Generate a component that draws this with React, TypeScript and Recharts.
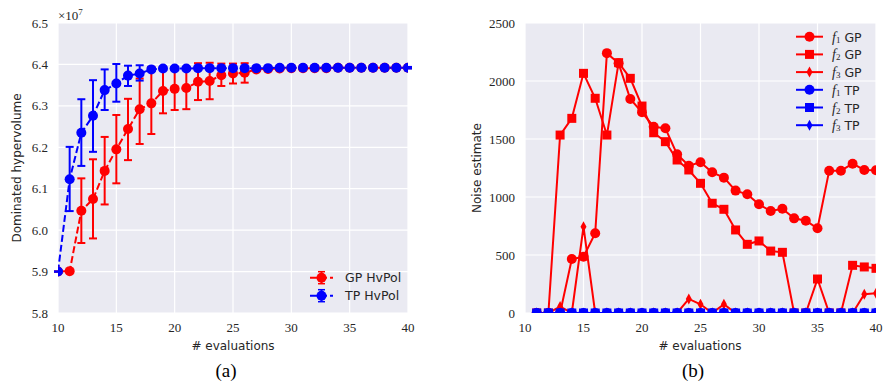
import React from 'react';
import { LineChart, Line, XAxis, YAxis, CartesianGrid, ErrorBar } from 'recharts';

// ---- panel (a): dominated hypervolume (units of 1e7) ----
const evalsA = [10, 11, 12, 13, 14, 15, 16, 17, 18, 19, 20, 21, 22, 23, 24, 25, 26, 27, 28, 29, 30, 31, 32, 33, 34, 35, 36, 37, 38, 39, 40];
const gpHv = [5.9, 5.901, 6.047, 6.075, 6.143, 6.195, 6.244, 6.292, 6.306, 6.336, 6.341, 6.343, 6.358, 6.36, 6.374, 6.378, 6.38, 6.388, 6.389, 6.39, 6.391, 6.391, 6.391, 6.391, 6.392, 6.392, 6.392, 6.392, 6.392, 6.392, 6.392];
const gpLow = [5.9, 5.901, 5.969, 5.98, 6.062, 6.113, 6.169, 6.208, 6.232, 6.282, 6.29, 6.292, 6.314, 6.316, 6.348, 6.354, 6.356, 6.384, 6.387, 6.389, 6.39, 6.39, 6.39, 6.39, 6.391, 6.391, 6.391, 6.391, 6.391, 6.391, 6.391];
const gpHigh = [5.9, 5.901, 6.125, 6.171, 6.225, 6.278, 6.317, 6.366, 6.394, 6.391, 6.392, 6.392, 6.403, 6.404, 6.402, 6.402, 6.403, 6.392, 6.391, 6.391, 6.392, 6.392, 6.392, 6.392, 6.393, 6.393, 6.393, 6.393, 6.393, 6.393, 6.393];
const tpHv = [5.9, 6.123, 6.235, 6.276, 6.338, 6.354, 6.373, 6.378, 6.388, 6.39, 6.39, 6.39, 6.391, 6.391, 6.391, 6.391, 6.391, 6.391, 6.391, 6.392, 6.392, 6.392, 6.392, 6.392, 6.392, 6.392, 6.392, 6.392, 6.392, 6.392, 6.392];
const tpLow = [5.9, 6.046, 6.155, 6.189, 6.29, 6.31, 6.348, 6.361, 6.384, 6.388, 6.388, 6.388, 6.389, 6.389, 6.389, 6.389, 6.389, 6.389, 6.389, 6.39, 6.39, 6.39, 6.39, 6.39, 6.39, 6.39, 6.39, 6.39, 6.39, 6.39, 6.39];
const tpHigh = [5.9, 6.201, 6.316, 6.362, 6.388, 6.401, 6.397, 6.398, 6.392, 6.392, 6.392, 6.392, 6.393, 6.393, 6.393, 6.393, 6.393, 6.393, 6.393, 6.394, 6.394, 6.394, 6.394, 6.394, 6.394, 6.394, 6.394, 6.394, 6.394, 6.394, 6.394];
const xTicks = [10, 15, 20, 25, 30, 35, 40];
const hvTicks = [5.8, 5.9, 6.0, 6.1, 6.2, 6.3, 6.4, 6.5];

// ---- panel (b): noise estimate ----
const evalsB = [11, 12, 13, 14, 15, 16, 17, 18, 19, 20, 21, 22, 23, 24, 25, 26, 27, 28, 29, 30, 31, 32, 33, 34, 35, 36, 37, 38, 39, 40];
const f1GP = [0, 0, 0, 465, 485, 687, 2240, 2152, 1845, 1730, 1606, 1592, 1368, 1270, 1299, 1213, 1167, 1055, 1023, 937, 879, 899, 816, 796, 730, 1227, 1227, 1287, 1233, 1230];
const f2GP = [0, 0, 1534, 1678, 2066, 1851, 1534, 2158, 2023, 1784, 1554, 1477, 1319, 1233, 1118, 946, 894, 716, 592, 621, 534, 523, 0, 0, 293, 0, 0, 411, 397, 385];
const f3GP = [0, 0, 55, 0, 744, 0, 0, 0, 0, 0, 0, 0, 0, 121, 75, 0, 75, 0, 0, 0, 0, 0, 0, 0, 0, 0, 0, 0, 161, 170];
const f1TP = [0, 0, 0, 0, 0, 0, 0, 0, 0, 0, 0, 0, 0, 0, 0, 0, 0, 0, 0, 0, 0, 0, 0, 0, 0, 0, 0, 0, 0, 0];
const f2TP = [0, 0, 0, 0, 0, 0, 0, 0, 0, 0, 0, 0, 0, 0, 0, 0, 0, 0, 0, 0, 0, 0, 0, 0, 0, 0, 0, 0, 0, 0];
const f3TP = [0, 0, 0, 0, 0, 0, 0, 0, 0, 0, 0, 0, 0, 0, 0, 0, 0, 0, 0, 0, 0, 0, 0, 0, 0, 0, 0, 0, 0, 0];
const noiseTicks = [0, 500, 1000, 1500, 2000, 2500];

const RED = '#ff0000';
const BLUE = '#0000ff';
const BG = '#eaeaf2';
const TXT = '#262626';
const serif = '"Liberation Serif", serif';
const sans = '"DejaVu Sans", sans-serif';
const tickStyle = { fontFamily: serif, fontSize: 13, fill: TXT };

const hvData = evalsA.map((x, i) => ({
  x,
  gp: gpHv[i],
  gpErr: [gpHv[i] - gpLow[i], gpHigh[i] - gpHv[i]],
  tp: tpHv[i],
  tpErr: [tpHv[i] - tpLow[i], tpHigh[i] - tpHv[i]],
}));

const noiseData = evalsB.map((x, i) => ({
  x,
  f1GP: f1GP[i],
  f2GP: f2GP[i],
  f3GP: f3GP[i],
  f1TP: f1TP[i],
  f2TP: f2TP[i],
  f3TP: f3TP[i],
}));

const square = (color: string) => (p: any) => (
  <rect key={`s-${p.index}`} x={p.cx - 4.5} y={p.cy - 4.5} width={9} height={9} fill={color} />
);
const diamond = (color: string) => (p: any) => (
  <polygon
    key={`d-${p.index}`}
    points={`${p.cx},${p.cy - 5.5} ${p.cx + 3},${p.cy} ${p.cx},${p.cy + 5.5} ${p.cx - 3},${p.cy}`}
    fill={color}
  />
);

function MarkerShape({ kind, x, y, color }: { kind: string; x: number; y: number; color: string }) {
  if (kind === 'circle') return <circle cx={x} cy={y} r={5} fill={color} />;
  if (kind === 'square') return <rect x={x - 4.5} y={y - 4.5} width={9} height={9} fill={color} />;
  return <polygon points={`${x},${y - 5.5} ${x + 3},${y} ${x},${y + 5.5} ${x - 3},${y}`} fill={color} />;
}

const noiseLegend = [
  { sub: '1', name: 'GP', color: RED, kind: 'circle' },
  { sub: '2', name: 'GP', color: RED, kind: 'square' },
  { sub: '3', name: 'GP', color: RED, kind: 'diamond' },
  { sub: '1', name: 'TP', color: BLUE, kind: 'circle' },
  { sub: '2', name: 'TP', color: BLUE, kind: 'square' },
  { sub: '3', name: 'TP', color: BLUE, kind: 'diamond' },
];

const hvLegend = [
  { name: 'GP HvPol', color: RED },
  { name: 'TP HvPol', color: BLUE },
];

export default function App() {
  return (
    <div style={{ position: 'absolute', left: 0, top: 0, width: 884, height: 383, background: '#fff' }}>
      <div style={{ position: 'absolute', left: 0, top: 0 }}>
        <LineChart width={440} height={383} data={hvData} margin={{ top: 23, right: 32, left: 0, bottom: 40 }}>
          <CartesianGrid stroke="#fff" strokeWidth={1.2} fill={BG} />
          <XAxis
            type="number"
            dataKey="x"
            domain={[10, 40]}
            ticks={xTicks}
            allowDataOverflow
            axisLine={false}
            tickLine={false}
            tickMargin={4}
            height={30}
            tick={tickStyle}
          />
          <YAxis
            type="number"
            domain={[5.8, 6.5]}
            ticks={hvTicks}
            allowDataOverflow
            axisLine={false}
            tickLine={false}
            tickMargin={4}
            width={58}
            tick={tickStyle}
            tickFormatter={(v: number) => v.toFixed(1)}
          />
          <Line
            type="linear"
            dataKey="gp"
            stroke={RED}
            strokeWidth={2}
            strokeDasharray="7 3"
            dot={{ r: 5, fill: RED, stroke: 'none', strokeDasharray: '' }}
            isAnimationActive={false}
          >
            <ErrorBar dataKey="gpErr" direction="y" width={4} stroke={RED} strokeWidth={2} isAnimationActive={false} />
          </Line>
          <Line
            type="linear"
            dataKey="tp"
            stroke={BLUE}
            strokeWidth={2}
            strokeDasharray="7 3"
            dot={{ r: 5, fill: BLUE, stroke: 'none', strokeDasharray: '' }}
            isAnimationActive={false}
          >
            <ErrorBar dataKey="tpErr" direction="y" width={4} stroke={BLUE} strokeWidth={2} isAnimationActive={false} />
          </Line>
        </LineChart>
      </div>

      <div style={{ position: 'absolute', left: 440, top: 0 }}>
        <LineChart width={444} height={383} data={noiseData} margin={{ top: 23, right: 8, left: 0, bottom: 40 }}>
          <CartesianGrid stroke="#fff" strokeWidth={1.2} fill={BG} />
          <XAxis
            type="number"
            dataKey="x"
            domain={[10, 40]}
            ticks={xTicks}
            allowDataOverflow
            axisLine={false}
            tickLine={false}
            tickMargin={4}
            height={30}
            tick={tickStyle}
          />
          <YAxis
            type="number"
            domain={[0, 2500]}
            ticks={noiseTicks}
            allowDataOverflow
            axisLine={false}
            tickLine={false}
            tickMargin={4}
            width={85}
            tick={tickStyle}
          />
          <Line type="linear" dataKey="f1GP" stroke={RED} strokeWidth={2} dot={{ r: 5, fill: RED, stroke: 'none' }} isAnimationActive={false} />
          <Line type="linear" dataKey="f2GP" stroke={RED} strokeWidth={2} dot={square(RED)} isAnimationActive={false} />
          <Line type="linear" dataKey="f3GP" stroke={RED} strokeWidth={2} dot={diamond(RED)} isAnimationActive={false} />
          <Line type="linear" dataKey="f1TP" stroke={BLUE} strokeWidth={2} dot={{ r: 5, fill: BLUE, stroke: 'none' }} isAnimationActive={false} />
          <Line type="linear" dataKey="f2TP" stroke={BLUE} strokeWidth={2} dot={square(BLUE)} isAnimationActive={false} />
          <Line type="linear" dataKey="f3TP" stroke={BLUE} strokeWidth={2} dot={diamond(BLUE)} isAnimationActive={false} />
        </LineChart>
      </div>

      {/* labels, legends and captions */}
      <svg width={884} height={383} style={{ position: 'absolute', left: 0, top: 0, pointerEvents: 'none' }}>
        <text x={58} y={20} fontFamily={serif} fontSize={13} fill={TXT}>
          ×10<tspan dy={-5} fontSize={9}>7</tspan>
        </text>
        <text x={17} y={168} transform="rotate(-90 17 168)" textAnchor="middle" dominantBaseline="central" fontFamily={sans} fontSize={12} fill={TXT}>
          Dominated hypervolume
        </text>
        <text x={233} y={346} textAnchor="middle" dominantBaseline="central" fontFamily={sans} fontSize={12} fill={TXT}>
          # evaluations
        </text>
        <text x={477} y={168} transform="rotate(-90 477 168)" textAnchor="middle" dominantBaseline="central" fontFamily={sans} fontSize={12} fill={TXT}>
          Noise estimate
        </text>
        <text x={700} y={346} textAnchor="middle" dominantBaseline="central" fontFamily={sans} fontSize={12} fill={TXT}>
          # evaluations
        </text>
        <text x={226} y={370} textAnchor="middle" dominantBaseline="central" fontFamily={serif} fontSize={19} fill="#000">
          (a)
        </text>
        <text x={693} y={370} textAnchor="middle" dominantBaseline="central" fontFamily={serif} fontSize={19} fill="#000">
          (b)
        </text>

        {hvLegend.map((e, i) => {
          const y = 277.7 + i * 18;
          return (
            <g key={e.name}>
              <line x1={310} x2={333} y1={y} y2={y} stroke={e.color} strokeWidth={2} strokeDasharray="7 3" />
              <line x1={321.5} x2={321.5} y1={y - 6} y2={y + 6} stroke={e.color} strokeWidth={2} />
              <line x1={318} x2={325} y1={y - 6} y2={y - 6} stroke={e.color} strokeWidth={1.5} />
              <line x1={318} x2={325} y1={y + 6} y2={y + 6} stroke={e.color} strokeWidth={1.5} />
              <circle cx={321.5} cy={y} r={5} fill={e.color} />
              <text x={345} y={y} dominantBaseline="central" fontFamily={sans} fontSize={12.5} fill={TXT}>
                {e.name}
              </text>
            </g>
          );
        })}

        {noiseLegend.map((e, i) => {
          const y = 36.7 + i * 17.7;
          return (
            <g key={i}>
              <line x1={796} x2={823} y1={y} y2={y} stroke={e.color} strokeWidth={2} />
              <MarkerShape kind={e.kind} x={809.5} y={y} color={e.color} />
              <text x={832} y={y} dominantBaseline="central" fill={TXT}>
                <tspan fontFamily={serif} fontStyle="italic" fontSize={14}>f</tspan>
                <tspan fontFamily={serif} fontSize={9} dy={3}>{e.sub}</tspan>
                <tspan fontFamily={sans} fontSize={12.5} dy={-3}> {e.name}</tspan>
              </text>
            </g>
          );
        })}
      </svg>
    </div>
  );
}
